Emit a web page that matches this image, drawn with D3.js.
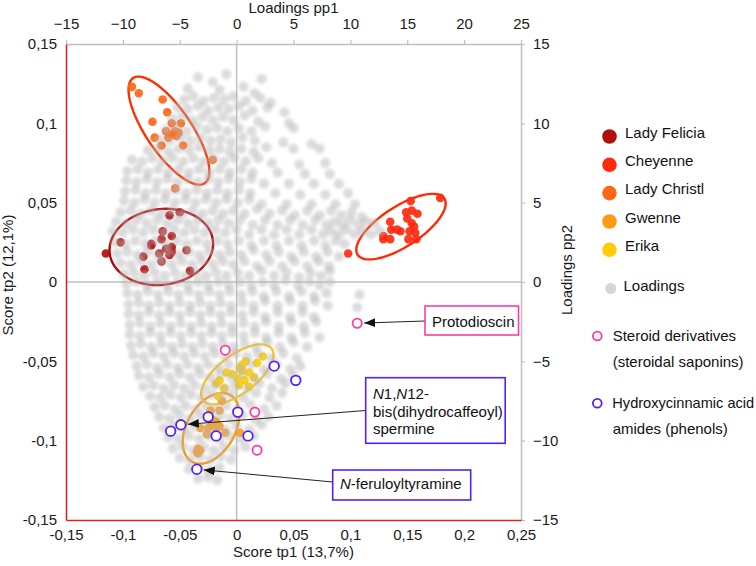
<!DOCTYPE html>
<html><head><meta charset="utf-8">
<script src="https://cdn.jsdelivr.net/npm/d3@7"></script>
<style>body{margin:0;background:#fff}svg text{font-family:"Liberation Sans",Arial,sans-serif}</style>
</head><body><svg id="chart" width="756" height="566"></svg>
<script>
// ---------- data ----------
const xTicks=[-0.15,-0.1,-0.05,0,0.05,0.1,0.15,0.2,0.25];
const xTickLabels=["-0,15","-0,1","-0,05","0","0,05","0,1","0,15","0,2","0,25"];
const yTicks=[-0.15,-0.1,-0.05,0,0.05,0.1,0.15];
const yTickLabels=["-0,15","-0,1","-0,05","0","0,05","0,1","0,15"];
const pp1Ticks=[-15,-10,-5,0,5,10,15,20,25];
const pp2Ticks=[-15,-10,-5,0,5,10,15];
const cultivars=["Lady Felicia","Cheyenne","Lady Christl","Gwenne","Erika"];

const ladyFelicia=[[-0.115,0.018],[-0.102,0.025],[-0.059,0.042],[-0.050,0.044],[-0.065,0.032],[-0.057,0.029],[-0.066,0.027],[-0.075,0.024],[-0.075,0.023],[-0.062,0.021],[-0.057,0.022],[-0.057,0.019],[-0.059,0.017],[-0.068,0.018],[-0.082,0.016],[-0.044,0.020],[-0.066,0.013],[-0.081,0.008],[-0.041,0.007]];
const cheyenne=[[0.179,0.053],[0.153,0.051],[0.149,0.044],[0.154,0.045],[0.159,0.043],[0.150,0.040],[0.135,0.038],[0.154,0.037],[0.156,0.035],[0.136,0.033],[0.141,0.033],[0.144,0.032],[0.152,0.032],[0.157,0.031],[0.129,0.029],[0.135,0.027],[0.129,0.027],[0.151,0.027],[0.158,0.027],[0.098,0.018]];
const ladyChristl=[[-0.092,0.123],[-0.086,0.119],[-0.065,0.115],[-0.061,0.107],[-0.074,0.101],[-0.057,0.100],[-0.049,0.100],[-0.062,0.095],[-0.054,0.095],[-0.051,0.094],[-0.057,0.093],[-0.072,0.091],[-0.060,0.091],[-0.053,0.092],[-0.066,0.086],[-0.047,0.086],[-0.021,0.077],[-0.054,0.059]];
const gwenne=[[-0.015,-0.081],[-0.023,-0.081],[-0.013,-0.075],[-0.018,-0.088],[-0.022,-0.090],[-0.019,-0.091],[-0.015,-0.091],[-0.032,-0.092],[-0.025,-0.092],[-0.026,-0.096],[-0.010,-0.095],[0.003,-0.095],[-0.034,-0.105],[-0.035,-0.107],[-0.032,-0.106],[-0.034,-0.108],[-0.018,-0.095],[-0.021,-0.087]];
const erika=[[0.023,-0.047],[0.018,-0.051],[0.008,-0.050],[0.005,-0.052],[0.003,-0.054],[0.005,-0.056],[0.011,-0.057],[0.015,-0.060],[-0.009,-0.057],[0.007,-0.062],[0.001,-0.061],[0.011,-0.066],[0.002,-0.065],[-0.018,-0.064],[-0.015,-0.062],[-0.011,-0.067],[-0.016,-0.072],[-0.004,-0.058]];
const scoreSeries=[ladyFelicia,cheyenne,ladyChristl,gwenne,erika];

// confidence ellipses (score units): centre, semi-axis vector 1, semi-axis vector 2
const ellipseCentres=[[-0.0662,0.0221],[0.1445,0.0349],[-0.0595,0.0954],[-0.0225,-0.0922],[0.0006,-0.0582]];
const ellipseAxisA=[[0.0453,0.0045],[0.0381,0.0178],[0.0315,-0.0331],[0.0169,0.0210],[0.0301,0.0163]];
const ellipseAxisB=[[0.0047,-0.0236],[0.0097,-0.0105],[0.0164,0.0080],[0.0183,-0.0076],[0.0102,-0.0096]];

// marked loadings (pp1, pp2)
const steroidDerivatives=[[-1.0,-4.3],[1.6,-8.2],[1.8,-10.6],[10.6,-2.6]];
const hydroxycinnamicAmides=[[3.3,-5.3],[5.2,-6.2],[0.1,-8.2],[-2.5,-8.5],[-4.9,-9.0],[-5.8,-9.4],[-1.8,-9.7],[1.0,-9.7],[-3.5,-11.8]];

// loadings cloud (pp1, pp2)
const loadings=[
[-3.4,12.9],[-2.1,12.6],[-0.9,13.1],[2.2,12.8],[-4.3,12.2],[-1.5,12.1],[0.6,12.3],[1.6,11.9],
[-4.6,11.5],[-3.8,11.7],[-2.9,11.4],[-2.0,11.6],[-1.1,11.5],[-0.3,11.7],[0.8,11.4],[2.1,11.6],[3.0,11.3],
[-5.2,11.0],[-4.3,10.9],[-3.4,11.1],[-2.5,10.8],[-1.6,11.0],[-0.7,10.9],[0.2,11.1],[1.4,10.8],[2.7,11.0],[4.2,10.7],
[-5.7,10.3],[-4.8,10.4],[-3.9,10.2],[-3.0,10.4],[-2.1,10.2],[-1.2,10.4],[-0.3,10.2],[0.7,10.5],[1.9,10.1],[4.6,10.0],
[-6.2,9.6],[-5.3,9.7],[-4.4,9.5],[-3.5,9.8],[-2.6,9.6],[-1.7,9.7],[-0.8,9.5],[0.2,9.7],[1.3,9.5],[2.5,9.8],[5.0,9.7],
[-6.8,9.0],[-5.9,8.9],[-5.0,9.1],[-4.1,8.9],[-3.2,9.1],[-2.3,8.9],[-1.4,9.0],[-0.5,8.8],[0.5,9.1],[1.6,8.9],[4.1,8.8],[6.6,8.7],
[-7.8,8.3],[-6.9,8.4],[-6.0,8.2],[-5.1,8.4],[-4.2,8.3],[-3.3,8.5],[-2.4,8.3],[-1.5,8.4],[-0.6,8.2],[0.4,8.4],[1.5,8.2],[2.6,8.5],[5.0,8.4],[7.3,8.4],
[-9.2,7.7],[-8.3,7.6],[-7.4,7.8],[-6.5,7.6],[-5.6,7.8],[-4.7,7.6],[-3.8,7.8],[-2.9,7.6],[-2.0,7.8],[-1.1,7.6],[-0.2,7.8],[0.8,7.6],[1.9,7.8],[3.1,7.5],[5.5,7.4],[7.8,7.5],
[-9.6,7.0],[-8.7,7.1],[-7.8,6.9],[-6.9,7.1],[-6.0,6.9],[-5.1,7.1],[-4.2,6.9],[-3.3,7.1],[-2.4,6.9],[-1.5,7.1],[-0.6,6.9],[0.4,7.1],[1.4,6.9],[3.6,6.9],[6.0,6.8],[8.2,6.8],
[-9.7,6.4],[-8.8,6.3],[-7.9,6.5],[-7.0,6.3],[-6.1,6.5],[-5.2,6.3],[-4.3,6.5],[-3.4,6.3],[-2.5,6.5],[-1.6,6.3],[-0.7,6.5],[0.3,6.3],[1.3,6.5],[2.4,6.2],[4.6,6.2],[6.8,6.2],[9.0,6.2],
[-9.8,5.7],[-8.9,5.8],[-8.0,5.6],[-7.1,5.8],[-6.2,5.6],[-5.3,5.8],[-4.4,5.6],[-3.5,5.8],[-2.6,5.6],[-1.7,5.8],[-0.8,5.6],[0.2,5.8],[1.2,5.6],[3.4,5.6],[5.6,5.5],[7.8,5.5],[9.8,5.6],
[-9.9,5.1],[-9.0,5.0],[-8.1,5.2],[-7.2,5.0],[-6.3,5.2],[-5.4,5.0],[-4.5,5.2],[-3.6,5.0],[-2.7,5.2],[-1.8,5.0],[-0.9,5.2],[0.1,5.0],[1.1,5.2],[2.2,4.9],[4.4,4.9],[6.6,4.9],[8.7,4.9],[10.4,4.9],
[-10.2,4.4],[-9.3,4.5],[-8.4,4.3],[-7.5,4.5],[-6.6,4.3],[-5.7,4.5],[-4.8,4.3],[-3.9,4.5],[-3.0,4.3],[-2.1,4.5],[-1.2,4.3],[-0.3,4.5],[0.7,4.3],[1.8,4.6],[2.9,4.3],[4.0,4.5],[5.1,4.2],[6.2,4.5],[7.3,4.2],[8.3,4.5],[9.2,4.2],[10.1,4.4],[11.0,4.1],
[-10.6,3.8],[-9.7,3.7],[-8.8,3.9],[-7.9,3.7],[-7.0,3.9],[-6.1,3.7],[-5.2,3.9],[-4.3,3.7],[-3.4,3.9],[-2.5,3.7],[-1.6,3.9],[-0.7,3.7],[0.3,3.9],[1.4,3.6],[2.5,3.9],[3.6,3.6],[4.7,3.9],[5.8,3.6],[6.9,3.9],[7.9,3.6],[8.6,3.8],[9.3,3.6],[10.0,3.9],[10.7,3.6],[11.4,3.8],[12.1,3.7],
[-10.9,3.2],[-10.0,3.1],[-9.1,3.3],[-8.2,3.1],[-7.3,3.3],[-6.4,3.1],[-5.5,3.3],[-4.6,3.1],[-3.7,3.3],[-2.8,3.1],[-1.9,3.3],[-1.0,3.1],[0.0,3.3],[1.1,3.0],[2.2,3.3],[3.3,3.0],[4.4,3.3],[5.5,3.0],[6.6,3.3],[7.6,3.0],[8.3,3.2],[9.0,3.0],[9.7,3.3],[10.4,3.0],[11.1,3.2],[11.8,3.0],[12.6,3.2],
[-10.7,2.5],[-9.8,2.4],[-8.9,2.6],[-8.0,2.4],[-7.1,2.6],[-6.2,2.4],[-5.3,2.6],[-4.4,2.4],[-3.5,2.6],[-2.6,2.4],[-1.7,2.6],[-0.8,2.4],[0.2,2.6],[1.3,2.3],[2.4,2.6],[3.5,2.3],[4.6,2.6],[5.7,2.3],[6.8,2.6],[7.8,2.3],[8.7,2.6],[9.5,2.4],
[-10.5,1.8],[-9.6,1.9],[-8.7,1.7],[-7.8,1.9],[-6.9,1.7],[-6.0,1.9],[-5.1,1.7],[-4.2,1.9],[-3.3,1.7],[-2.4,1.9],[-1.5,1.7],[-0.6,1.9],[0.4,1.7],[1.5,2.0],[2.6,1.7],[3.7,1.9],[4.8,1.6],[5.9,1.9],[7.0,1.6],[8.0,1.9],[9.0,1.6],
[-10.2,1.2],[-9.3,1.1],[-8.4,1.3],[-7.5,1.1],[-6.6,1.3],[-5.7,1.1],[-4.8,1.3],[-3.9,1.1],[-3.0,1.3],[-2.1,1.1],[-1.2,1.3],[-0.3,1.1],[0.7,1.3],[1.8,1.0],[2.9,1.3],[4.0,1.0],[5.1,1.3],[6.2,1.0],[7.2,1.3],[8.1,1.0],
[-9.9,0.5],[-9.0,0.6],[-8.1,0.4],[-7.2,0.6],[-6.3,0.4],[-5.4,0.6],[-4.5,0.4],[-3.6,0.6],[-2.7,0.4],[-1.8,0.6],[-0.9,0.4],[0.1,0.6],[1.1,0.4],[2.2,0.7],[3.3,0.4],[4.4,0.6],[5.5,0.3],[6.5,0.6],[7.4,0.4],[8.2,0.7],
[-9.7,-0.1],[-8.8,0.0],[-7.9,-0.2],[-7.0,0.0],[-6.1,-0.2],[-5.2,0.0],[-4.3,-0.2],[-3.4,0.0],[-2.5,-0.2],[-1.6,0.0],[-0.7,-0.2],[0.3,0.0],[1.3,-0.2],[2.3,0.0],[3.3,-0.2],[4.3,0.1],[5.4,-0.2],[6.4,0.0],[7.3,-0.2],[8.2,0.0],
[-9.6,-0.7],[-8.7,-0.8],[-7.8,-0.6],[-6.9,-0.8],[-6.0,-0.6],[-5.1,-0.8],[-4.2,-0.6],[-3.3,-0.8],[-2.4,-0.6],[-1.5,-0.8],[-0.6,-0.6],[0.4,-0.8],[1.4,-0.6],[2.4,-0.9],[3.5,-0.6],[4.6,-0.9],[5.7,-0.6],[6.8,-0.9],[7.9,-0.7],[10.8,-0.8],
[-9.5,-1.4],[-8.6,-1.3],[-7.7,-1.5],[-6.8,-1.3],[-5.9,-1.5],[-5.0,-1.3],[-4.1,-1.5],[-3.2,-1.3],[-2.3,-1.5],[-1.4,-1.3],[-0.5,-1.5],[0.5,-1.3],[1.5,-1.5],[2.5,-1.2],[3.6,-1.5],[4.7,-1.2],[5.8,-1.5],[6.9,-1.2],[8.0,-1.5],[10.6,-1.6],
[-9.5,-2.0],[-8.6,-2.1],[-7.7,-1.9],[-6.8,-2.1],[-5.9,-1.9],[-5.0,-2.1],[-4.1,-1.9],[-3.2,-2.1],[-2.3,-1.9],[-1.4,-2.1],[-0.5,-1.9],[0.5,-2.1],[1.5,-1.9],[2.5,-2.2],[3.6,-1.9],[4.7,-2.2],[5.8,-1.9],[6.8,-2.2],
[-9.4,-2.7],[-8.5,-2.6],[-7.6,-2.8],[-6.7,-2.6],[-5.8,-2.8],[-4.9,-2.6],[-4.0,-2.8],[-3.1,-2.6],[-2.2,-2.8],[-1.3,-2.6],[-0.4,-2.8],[0.6,-2.6],[1.6,-2.8],[2.6,-2.5],[3.7,-2.8],[4.8,-2.5],[5.9,-2.8],[7.0,-2.5],
[-9.4,-3.3],[-8.5,-3.4],[-7.6,-3.2],[-6.7,-3.4],[-5.8,-3.2],[-4.9,-3.4],[-4.0,-3.2],[-3.1,-3.4],[-2.2,-3.2],[-1.3,-3.4],[-0.4,-3.2],[0.6,-3.4],[1.6,-3.2],[2.6,-3.5],[3.7,-3.2],[4.8,-3.5],[6.0,-3.2],[7.3,-3.5],
[-9.3,-4.0],[-8.4,-3.9],[-7.5,-4.1],[-6.6,-3.9],[-5.7,-4.1],[-4.8,-3.9],[-3.9,-4.1],[-3.0,-3.9],[-2.1,-4.1],[-1.2,-3.9],[-0.3,-4.1],[0.7,-3.9],[1.7,-4.1],[2.7,-3.8],[3.8,-4.1],[5.0,-3.8],[6.2,-4.1],
[-9.1,-4.6],[-8.2,-4.7],[-7.3,-4.5],[-6.4,-4.7],[-5.5,-4.5],[-4.6,-4.7],[-3.7,-4.5],[-2.8,-4.7],[-1.9,-4.5],[-1.0,-4.7],[-0.1,-4.5],[0.9,-4.7],[1.9,-4.5],[3.0,-4.8],[4.1,-4.5],[5.3,-4.8],
[-8.8,-5.3],[-7.9,-5.2],[-7.0,-5.4],[-6.1,-5.2],[-5.2,-5.4],[-4.3,-5.2],[-3.4,-5.4],[-2.5,-5.2],[-1.6,-5.4],[-0.7,-5.2],[0.3,-5.4],[1.3,-5.2],[2.4,-5.5],[3.5,-5.2],[4.7,-5.5],[5.6,-5.3],
[-8.6,-5.9],[-7.7,-6.0],[-6.8,-5.8],[-5.9,-6.0],[-5.0,-5.8],[-4.1,-6.0],[-3.2,-5.8],[-2.3,-6.0],[-1.4,-5.8],[-0.5,-6.0],[0.5,-5.8],[1.6,-6.1],[2.7,-5.8],[3.9,-6.1],[5.0,-5.9],
[-8.2,-6.6],[-7.3,-6.5],[-6.4,-6.7],[-5.5,-6.5],[-4.6,-6.7],[-3.7,-6.5],[-2.8,-6.7],[-1.9,-6.5],[-1.0,-6.7],[-0.1,-6.5],[0.9,-6.7],[2.0,-6.4],[3.1,-6.7],[4.3,-6.4],
[-7.6,-7.2],[-6.7,-7.3],[-5.8,-7.1],[-4.9,-7.3],[-4.0,-7.1],[-3.1,-7.3],[-2.2,-7.1],[-1.3,-7.3],[-0.4,-7.1],[0.6,-7.3],[1.7,-7.0],[2.9,-7.3],[4.0,-7.0],
[-7.2,-7.9],[-6.3,-7.8],[-5.4,-8.0],[-4.5,-7.8],[-3.6,-8.0],[-2.7,-7.8],[-1.8,-8.0],[-0.9,-7.8],[0.1,-8.0],[1.2,-7.7],[2.4,-8.0],[3.5,-7.8],
[-6.8,-8.5],[-5.9,-8.6],[-5.0,-8.4],[-4.1,-8.6],[-3.2,-8.4],[-2.3,-8.6],[-1.4,-8.4],[-0.5,-8.6],[0.5,-8.4],[1.7,-8.7],[2.8,-8.5],
[-6.4,-9.2],[-5.5,-9.1],[-4.6,-9.3],[-3.7,-9.1],[-2.8,-9.3],[-1.9,-9.1],[-1.0,-9.3],[0.0,-9.1],[1.1,-9.3],[2.2,-9.0],
[-6.0,-9.8],[-5.1,-9.9],[-4.2,-9.7],[-3.3,-9.9],[-2.4,-9.7],[-1.5,-9.9],[-0.6,-9.7],[0.4,-9.9],[1.5,-9.7],
[-5.6,-10.5],[-4.7,-10.4],[-3.8,-10.6],[-2.9,-10.4],[-2.0,-10.6],[-1.1,-10.4],[-0.2,-10.6],[0.8,-10.4],
[-5.0,-11.1],[-4.1,-11.2],[-3.2,-11.0],[-2.3,-11.2],[-1.4,-11.0],[-0.5,-11.2],
[-4.2,-11.8],[-3.3,-11.7],[-2.4,-11.9],[-1.5,-11.7],
[-3.4,-12.4],[-2.5,-12.3],[-1.7,-12.5]
];

// ---------- styles ----------
const pointColors=["#b20d0d","#ff2b0f","#ff6615","#ff9a14","#ffcc08"];
const ellipseColors=["#b30000","#ff2a00","#ff3000","#ff9500","#ffc61a"];
const pink="#ff3aa8", blue="#5222f5", red="#e0201a", grey="#c0c0c0";
const FONT='"Liberation Sans", Arial, sans-serif';

// ---------- scales ----------
const L=66,R=521,T=44,B=520;
const x=d3.scaleLinear().domain([-0.15,0.25]).range([L,R]);
const y=d3.scaleLinear().domain([-0.15,0.15]).range([B,T]);
const xl=d3.scaleLinear().domain([-15,25]).range([L,R]);
const yl=d3.scaleLinear().domain([-15,15]).range([B,T]);

const svg=d3.select("#chart");
const defs=svg.append("defs");
defs.append("filter").attr("id","soft").attr("x","-5%").attr("y","-5%").attr("width","110%").attr("height","110%")
  .append("feGaussianBlur").attr("stdDeviation",1.7);
defs.append("marker").attr("id","ah").attr("markerUnits","userSpaceOnUse")
  .attr("markerWidth",12).attr("markerHeight",10).attr("refX",11).attr("refY",4.5).attr("orient","auto")
  .append("path").attr("d","M0,0L11,4.5L0,9Z").attr("fill","#111");
svg.append("rect").attr("width",756).attr("height",566).attr("fill","#fff");

// zero lines
svg.append("line").attr("x1",x(0)).attr("x2",x(0)).attr("y1",T).attr("y2",B).attr("stroke",grey).attr("stroke-width",1.5);
svg.append("line").attr("x1",L).attr("x2",R).attr("y1",y(0)).attr("y2",y(0)).attr("stroke",grey).attr("stroke-width",1.5);

// ellipses
const line=d3.line().x(d=>x(d[0])).y(d=>y(d[1]));
const ellipsePts=i=>d3.range(0,97).map(k=>{const t=2*Math.PI*k/96;const c=ellipseCentres[i],a=ellipseAxisA[i],b=ellipseAxisB[i];
  return [c[0]+a[0]*Math.cos(t)+b[0]*Math.sin(t),c[1]+a[1]*Math.cos(t)+b[1]*Math.sin(t)];});
svg.append("g").selectAll("path").data(cultivars).join("path")
  .attr("d",(d,i)=>line(ellipsePts(i))).attr("fill","none")
  .attr("stroke",(d,i)=>ellipseColors[i]).attr("stroke-width",2.4);

// score points
scoreSeries.forEach((s,i)=>{
  svg.append("g").selectAll("circle").data(s).join("circle")
    .attr("cx",d=>x(d[0])).attr("cy",d=>y(d[1])).attr("r",4.3)
    .attr("fill",pointColors[i]).attr("fill-opacity",0.92);
});

// loadings cloud
svg.append("g").attr("filter","url(#soft)").selectAll("circle").data(loadings).join("circle")
  .attr("cx",d=>xl(d[0])).attr("cy",d=>yl(d[1])).attr("r",5)
  .attr("fill","#b8b8b8").attr("fill-opacity",0.5);

// marked loadings
svg.append("g").selectAll("circle").data(steroidDerivatives).join("circle")
  .attr("cx",d=>xl(d[0])).attr("cy",d=>yl(d[1])).attr("r",4.6)
  .attr("fill","#fff").attr("stroke",pink).attr("stroke-width",1.8);
svg.append("g").selectAll("circle").data(hydroxycinnamicAmides).join("circle")
  .attr("cx",d=>xl(d[0])).attr("cy",d=>yl(d[1])).attr("r",4.8)
  .attr("fill","#fff").attr("stroke",blue).attr("stroke-width",1.8);

// ---------- axes ----------
function styleAxis(g,col){
  g.attr("font-size",15).attr("font-family",FONT);
  g.select(".domain").attr("stroke",col).attr("stroke-width",1.5);
  g.selectAll(".tick line").attr("stroke",grey).attr("stroke-width",1.2);
  g.selectAll(".tick text").attr("fill","#1a1a1a");
}
svg.append("g").attr("transform",`translate(0,${T})`)
  .call(d3.axisTop(xl).tickValues(pp1Ticks).tickFormat(d3.format("d")).tickSize(4).tickPadding(11).tickSizeOuter(0))
  .call(g=>styleAxis(g,grey));
svg.append("g").attr("transform",`translate(${R},0)`)
  .call(d3.axisRight(yl).tickValues(pp2Ticks).tickFormat(d3.format("d")).tickSize(4).tickPadding(8).tickSizeOuter(0))
  .call(g=>styleAxis(g,grey));
svg.append("g").attr("transform",`translate(0,${B})`)
  .call(d3.axisBottom(x).tickValues(xTicks).tickFormat((d,i)=>xTickLabels[i]).tickSize(0).tickPadding(9).tickSizeOuter(0))
  .call(g=>styleAxis(g,red));
svg.append("g").attr("transform",`translate(${L},0)`)
  .call(d3.axisLeft(y).tickValues(yTicks).tickFormat((d,i)=>yTickLabels[i]).tickSize(0).tickPadding(9).tickSizeOuter(0))
  .call(g=>styleAxis(g,red));

// axis titles
const title=(t,xx,yy,rot)=>svg.append("text").text(t).attr("text-anchor","middle")
  .attr("font-size",15).attr("fill","#1a1a1a")
  .attr("transform",`translate(${xx},${yy})`+(rot?" rotate(-90)":""));
title("Loadings pp1",(L+R)/2,13,false);
title("Score tp1 (13,7%)",(L+R)/2,557,false);
title("Score tp2 (12,1%)",12.5,275,true);
title("Loadings pp2",572,270,true);

// ---------- annotations ----------
const annots=[
  {src:steroidDerivatives[3],col:pink,box:[425,306,93.5,29],from:[425,321],lines:[[["","Protodioscin"]]],tx:432,ty:[326.5]},
  {src:hydroxycinnamicAmides[4],col:blue,box:[365.7,377.7,139.5,65.6],from:[365.7,410.5],
   lines:[[["i","N"],["","1,"],["i","N"],["","12-"]],[["","bis(dihydrocaffeoyl)"]],[["","spermine"]]],tx:373,ty:[399,416.5,434]},
  {src:hydroxycinnamicAmides[8],col:blue,box:[332.7,470,138,30],from:[332.7,482],lines:[[["i","N"],["","-feruloyltyramine"]]],tx:340,ty:[489]}
];
annots.forEach(a=>{
  const px=xl(a.src[0]),py=yl(a.src[1]);
  const dx=a.from[0]-px,dy=a.from[1]-py,len=Math.hypot(dx,dy);
  svg.append("line").attr("x1",a.from[0]).attr("y1",a.from[1])
    .attr("x2",px+dx/len*7).attr("y2",py+dy/len*7)
    .attr("stroke","#222").attr("stroke-width",1).attr("marker-end","url(#ah)");
  svg.append("rect").attr("x",a.box[0]).attr("y",a.box[1]).attr("width",a.box[2]).attr("height",a.box[3])
    .attr("fill","#fff").attr("stroke",a.col).attr("stroke-width",1.6);
  a.lines.forEach((ln,j)=>{
    const t=svg.append("text").attr("x",a.tx).attr("y",a.ty[j]).attr("font-size",15).attr("fill","#111");
    ln.forEach(p=>t.append("tspan").text(p[1]).attr("font-style",p[0]==="i"?"italic":null));
  });
});

// ---------- legend ----------
const legY=[138,166.3,194.6,223,251.3];
const lg=svg.append("g");
lg.selectAll("circle.c").data(cultivars).join("circle").attr("class","c")
  .attr("cx",609.5).attr("cy",(d,i)=>legY[i]-1.5).attr("r",7.3).attr("fill",(d,i)=>pointColors[i]);
lg.selectAll("text.c").data(cultivars).join("text").attr("class","c")
  .attr("x",625).attr("y",(d,i)=>legY[i]-0.5).attr("font-size",15).attr("fill","#111").text(d=>d);
lg.append("circle").attr("cx",610.7).attr("cy",288.5).attr("r",5.5).attr("fill","#d6d6d6");
lg.append("text").attr("x",623.5).attr("y",291).attr("font-size",15).attr("fill","#111").text("Loadings");
lg.append("circle").attr("cx",597.3).attr("cy",336).attr("r",4.4).attr("fill","#fff").attr("stroke",pink).attr("stroke-width",1.8);
lg.append("text").attr("x",612.7).attr("y",340.5).attr("font-size",15).attr("fill","#111").text("Steroid derivatives");
lg.append("text").attr("x",612.7).attr("y",367).attr("font-size",15).attr("fill","#111").text("(steroidal saponins)");
lg.append("circle").attr("cx",597.3).attr("cy",403.3).attr("r",4.4).attr("fill","#fff").attr("stroke",blue).attr("stroke-width",1.8);
lg.append("text").attr("x",612.3).attr("y",407.8).attr("font-size",14.6).attr("fill","#111").text("Hydroxycinnamic acid");
lg.append("text").attr("x",612.7).attr("y",434.3).attr("font-size",15).attr("fill","#111").text("amides (phenols)");
</script></body></html>
